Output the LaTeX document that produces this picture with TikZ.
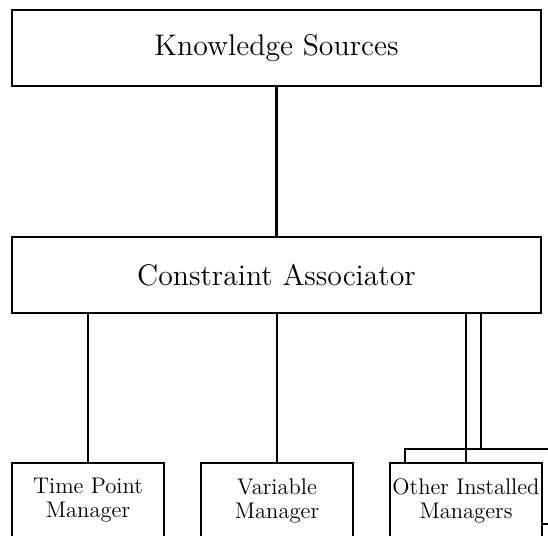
\documentclass[tikz,border=0pt]{standalone}
\usepackage{fontspec}
\usepackage{tikz}
\usetikzlibrary{positioning}

\begin{document}
\begin{tikzpicture}[x=0.5pt,y=-0.5pt,line width=1.1pt,
		bigbox/.style={draw,outer sep=0pt,minimum width=264.5pt,minimum height=38pt,font=\fontsize{14.9pt}{18pt}\selectfont},
		mgrbox/.style={draw,outer sep=0pt,minimum width=76pt,minimum height=37.5pt,align=center,inner xsep=0pt,inner ysep=1pt,
			font=\fontsize{11.3pt}{12pt}\selectfont\addfontfeatures{FakeStretch=0.9,LetterSpace=1.5}}]
				\useasboundingbox (0,0) rectangle (548,536);
				\clip (0,0) rectangle (548,536);

				\node[bigbox](know) at (276.5,48) {Knowledge Sources};
				\node[bigbox,below=75.5pt of know](assoc) {Constraint Associator};
				\node[mgrbox,below=75pt of assoc.south west,anchor=north west](timept) {Time Point\\Manager};
				\node[mgrbox,right=18.5pt of timept](var) {Variable\\Manager};
				\node[mgrbox,right=26pt of var,yshift=7pt](back) {};
				\node[mgrbox,fill=white,right=18.5pt of var](other) {Other Installed\\Managers};

				\draw (know) to (assoc);
				\draw (timept.north |- assoc.south) to (timept);
				\draw (var.north |- assoc.south) to (var);
				\draw (other.north |- assoc.south) to (other);
				\draw (back.north |- assoc.south) to (back);

			\end{tikzpicture}
\end{document}
